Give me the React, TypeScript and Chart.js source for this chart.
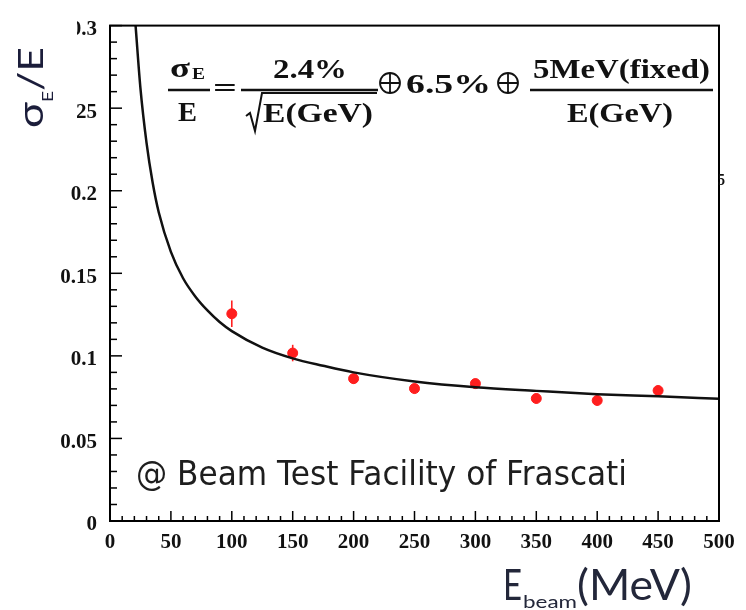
import { useEffect, useRef } from 'react';
import { Chart, registerables } from 'chart.js';

Chart.register(...registerables);

// Measured beam energies (MeV) and relative energy resolution
const energies = [100, 150, 200, 250, 300, 350, 400, 450];
const resolution = [0.1255, 0.1017, 0.0862, 0.0802, 0.0832, 0.0742, 0.073, 0.079];
const resolutionErr = [0.008, 0.005, 0.003, 0.003, 0.003, 0.003, 0.003, 0.003];

// Fit curve
const fitEnergies = [21, 25, 30, 35, 40, 50, 60, 70, 80, 90, 100, 125, 150, 175, 200, 250, 300, 350, 400, 450, 500];
const fitResolution = [0.3, 0.262, 0.229, 0.205, 0.187, 0.163, 0.147, 0.136, 0.1275, 0.1205, 0.115, 0.105, 0.0985, 0.094, 0.09, 0.0845, 0.081, 0.0788, 0.0768, 0.0755, 0.074];

const xMin = 0;
const xMax = 500;
const xStep = 50;
const yMin = 0;
const yMax = 0.3;
const yStep = 0.05;

const yTitleMain = 'σ';
const yTitleSub = 'E';
const yTitleRest = '/E';
const xTitleMain = 'E';
const xTitleSub = 'beam';
const xTitleRest = '(MeV)';
const watermark = '@ Beam Test Facility of Frascati';

function drawFit(ctx: CanvasRenderingContext2D, text: string, left: number, right: number, baseline: number, font: string) {
  ctx.save();
  ctx.font = font;
  ctx.textAlign = 'left';
  ctx.textBaseline = 'alphabetic';
  const w = ctx.measureText(text).width || 1;
  ctx.translate(left, baseline);
  ctx.scale((right - left) / w, 1);
  ctx.fillText(text, 0, 0);
  ctx.restore();
}

function oplus(ctx: CanvasRenderingContext2D, cx: number, cy: number, r: number) {
  ctx.save();
  ctx.lineWidth = 1.8;
  ctx.beginPath();
  ctx.arc(cx, cy, r, 0, Math.PI * 2);
  ctx.moveTo(cx - r, cy);
  ctx.lineTo(cx + r, cy);
  ctx.moveTo(cx, cy - r);
  ctx.lineTo(cx, cy + r);
  ctx.stroke();
  ctx.restore();
}

export default function App() {
  const ref = useRef<HTMLCanvasElement>(null);

  useEffect(() => {
    const canvas = ref.current;
    if (!canvas) return;

    const annotate = {
      id: 'annotate',
      beforeDatasetsDraw(chart: any) {
        const ctx = chart.ctx as CanvasRenderingContext2D;
        const xs = chart.scales.x;
        const ys = chart.scales.y;
        ctx.save();
        ctx.strokeStyle = '#ff2020';
        ctx.lineWidth = 1.6;
        energies.forEach((e, i) => {
          const x = xs.getPixelForValue(e);
          ctx.beginPath();
          ctx.moveTo(x, ys.getPixelForValue(resolution[i] + resolutionErr[i]));
          ctx.lineTo(x, ys.getPixelForValue(resolution[i] - resolutionErr[i]));
          ctx.stroke();
        });
        ctx.restore();
      },
      afterDraw(chart: any) {
        const ctx = chart.ctx as CanvasRenderingContext2D;
        const xs = chart.scales.x;
        const ys = chart.scales.y;
        const a = chart.chartArea;
        ctx.save();
        // frame
        ctx.strokeStyle = '#000';
        ctx.lineWidth = 2;
        ctx.strokeRect(a.left, a.top, a.right - a.left, a.bottom - a.top);
        // inward ticks
        ctx.lineWidth = 1.5;
        for (let v = xMin; v <= xMax + 0.001; v += 10) {
          const x = xs.getPixelForValue(v);
          const len = Math.round(v) % 50 === 0 ? 10 : 5;
          ctx.beginPath();
          ctx.moveTo(x, a.bottom);
          ctx.lineTo(x, a.bottom - len);
          ctx.stroke();
        }
        for (let k = 0; k <= 30; k++) {
          const y = ys.getPixelForValue(k / 100);
          const len = k % 5 === 0 ? 12 : 7;
          ctx.beginPath();
          ctx.moveTo(a.left, y);
          ctx.lineTo(a.left + len, y);
          ctx.stroke();
        }

        // white patch hiding part of the top tick labels (as in the original)
        ctx.fillStyle = '#fff';
        ctx.fillRect(0, 0, 77, 150);

        // y title (rotated)
        ctx.fillStyle = '#1b1d3a';
        ctx.save();
        ctx.translate(43, 128);
        ctx.rotate(-Math.PI / 2);
        drawFit(ctx, yTitleMain, 0, 26, 0, '34px Lato');
        drawFit(ctx, yTitleSub, 26, 37, 10, '16px Lato');
        drawFit(ctx, yTitleRest, 37, 81, 0, '34px Lato');
        ctx.restore();

        // x title
        ctx.fillStyle = '#23273a';
        drawFit(ctx, xTitleMain, 503, 522, 600, '42px Lato');
        drawFit(ctx, xTitleSub, 523, 577, 608, '17px Lato');
        drawFit(ctx, xTitleRest, 577, 692, 600, '42px Lato');

        // stray label fragment on the right edge
        ctx.fillStyle = '#111';
        drawFit(ctx, '5', 718, 725, 185, 'bold 16px "Liberation Serif"');

        // watermark
        ctx.fillStyle = '#1e1e1e';
        drawFit(ctx, watermark, 136, 627, 485, '34px "DejaVu Sans"');

        // formula
        ctx.fillStyle = '#111';
        ctx.strokeStyle = '#111';
        const F = 'bold 27px "Liberation Serif"';
        drawFit(ctx, 'σ', 170, 190, 77, F);
        drawFit(ctx, 'E', 192, 205, 79, 'bold 16px "Liberation Serif"');
        drawFit(ctx, 'E', 178, 197, 121, F);
        drawFit(ctx, '=', 213, 237, 97, F);
        drawFit(ctx, '2.4%', 273, 347, 78, F);
        drawFit(ctx, 'E(GeV)', 263, 373, 122, F);
        drawFit(ctx, '6.5%', 406, 491, 93, F);
        drawFit(ctx, '5MeV(fixed)', 533, 710, 78, F);
        drawFit(ctx, 'E(GeV)', 567, 673, 122, F);
        ctx.lineWidth = 2.5;
        ctx.beginPath();
        ctx.moveTo(168, 90); ctx.lineTo(210, 90);
        ctx.moveTo(241, 90); ctx.lineTo(378, 90);
        ctx.moveTo(530, 90); ctx.lineTo(713, 90);
        ctx.stroke();
        // radical
        ctx.lineWidth = 2;
        ctx.beginPath();
        ctx.moveTo(246, 116);
        ctx.lineTo(250, 113);
        ctx.lineTo(255, 131);
        ctx.lineTo(262, 93);
        ctx.lineTo(377, 93);
        ctx.stroke();
        oplus(ctx, 390, 83, 10);
        oplus(ctx, 508, 83, 10);
        ctx.restore();
      },
    };

    const chart = new Chart(canvas, {
      type: 'scatter',
      data: {
        datasets: [
          {
            data: fitEnergies.map((e, i) => ({ x: e, y: fitResolution[i] })),
            showLine: true,
            borderColor: '#111',
            borderWidth: 2.5,
            pointRadius: 0,
            cubicInterpolationMode: 'monotone',
          } as any,
          {
            data: energies.map((e, i) => ({ x: e, y: resolution[i] })),
            backgroundColor: '#ff1e1e',
            borderColor: '#ff1e1e',
            pointRadius: 5,
            pointHoverRadius: 5,
          },
        ],
      },
      options: {
        animation: false,
        responsive: false,
        devicePixelRatio: 1,
        events: [],
        layout: { padding: { left: 0, top: 18, right: 27, bottom: 0 } },
        plugins: { legend: { display: false }, tooltip: { enabled: false } },
        scales: {
          x: {
            type: 'linear',
            min: xMin,
            max: xMax,
            grid: { display: false, drawTicks: false },
            border: { display: false },
            ticks: {
              stepSize: xStep,
              padding: 9,
              autoSkip: false,
              maxRotation: 0,
              color: '#111',
              font: { family: 'Liberation Serif', weight: 'bold', size: 21 },
            },
            afterFit(s: any) { s.height = 89; },
          },
          y: {
            type: 'linear',
            min: yMin,
            max: yMax,
            grid: { display: false, drawTicks: false },
            border: { display: false },
            ticks: {
              stepSize: yStep,
              padding: 13,
              labelOffset: 4,
              color: '#111',
              font: { family: 'Liberation Serif', weight: 'bold', size: 21 },
              callback: (v: any) => String(Number(Number(v).toFixed(2))),
            },
            afterFit(s: any) { s.width = 110; },
          },
        },
      },
      plugins: [annotate],
    });

    return () => chart.destroy();
  }, []);

  return (
    <div style={{ position: 'fixed', left: 0, top: 0, width: 746, height: 610, background: '#fff' }}>
      <canvas ref={ref} width={746} height={610} style={{ display: 'block' }} />
    </div>
  );
}
